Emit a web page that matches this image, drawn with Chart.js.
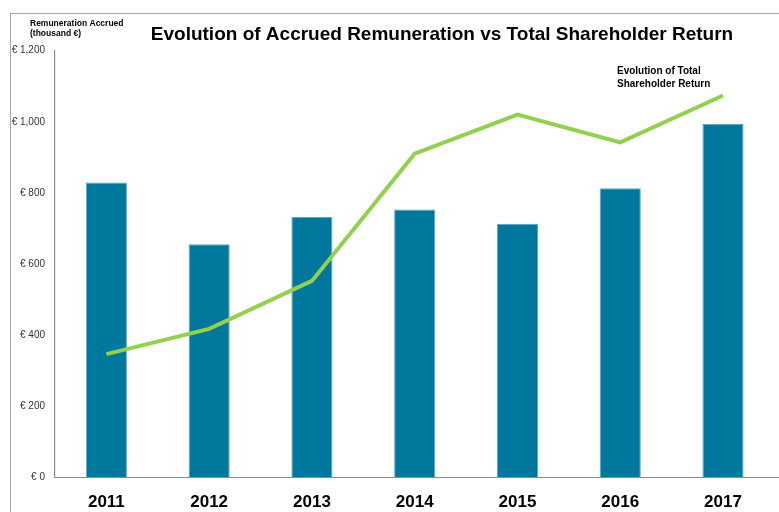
<!DOCTYPE html>
<html>
<head>
<meta charset="utf-8">
<script src="https://cdn.jsdelivr.net/npm/chart.js@4"></script>
<style>
  html, body { margin: 0; padding: 0; background: #fff; }
  #wrap { position: relative; width: 779px; height: 512px; overflow: hidden; }
  #frame { position: absolute; left: 10px; top: 13px; width: 800px; height: 600px;
           border-top: 1px solid #a6a6a6; border-left: 1px solid #a6a6a6; }
  canvas { position: absolute; left: 0; top: 0; }
</style>
</head>
<body>
<div id="wrap">
  <div id="frame"></div>
  <canvas id="myChart" width="779" height="512"></canvas>
</div>
<script>
// data
const years = ['2011', '2012', '2013', '2014', '2015', '2016', '2017'];
const remuneration = [829, 655, 732, 753, 713, 813, 994];
const shareholderReturn = [346, 417, 552, 910, 1020, 942, 1074];
const yTicks = [0, 200, 400, 600, 800, 1000, 1200];

const chartTitle = 'Evolution of Accrued Remuneration vs Total Shareholder Return';
const yTitle = ['Remuneration Accrued', '(thousand €)'];
const lineNote = ['Evolution of Total', 'Shareholder Return'];

const ctx = document.getElementById('myChart').getContext('2d');

// teks tambahan: judul, judul sumbu, catatan garis, garis sumbu x
const extras = {
  id: 'extras',
  afterDraw(chart) {
    const c = chart.ctx;
    const area = chart.chartArea;
    c.save();
    c.fillStyle = '#000';
    c.textBaseline = 'middle';
    c.font = 'bold 19px "Liberation Sans", Arial, sans-serif';
    c.textAlign = 'center';
    c.fillText(chartTitle, 442, 35);

    c.textAlign = 'left';
    c.font = 'bold 8.5px "Liberation Sans", Arial, sans-serif';
    c.fillText(yTitle[0], 30, 24);
    c.fillText(yTitle[1], 30, 34);

    c.font = 'bold 10px "Liberation Sans", Arial, sans-serif';
    c.fillText(lineNote[0], 617, 71);
    c.fillText(lineNote[1], 617, 84);

    c.strokeStyle = '#8c8c8c';
    c.lineWidth = 1.2;
    c.beginPath();
    c.moveTo(area.left, Math.round(area.bottom) + 0.5);
    c.lineTo(chart.width, Math.round(area.bottom) + 0.5);
    c.stroke();
    c.restore();
  }
};

new Chart(ctx, {
  type: 'bar',
  data: {
    labels: years,
    datasets: [{
      type: 'line',
      label: 'Total Shareholder Return',
      data: shareholderReturn,
      borderColor: '#92d050',
      borderWidth: 4,
      pointRadius: 0,
      tension: 0,
      order: 0
    }, {
      label: 'Remuneration Accrued',
      data: remuneration,
      backgroundColor: '#00779c',
      borderColor: '#5aa8c4',
      borderWidth: 1,
      barPercentage: 0.4,
      categoryPercentage: 1,
      order: 1
    }]
  },
  options: {
    responsive: false,
    animation: false,
    layout: { padding: { left: 0, right: 4.6, top: 50.7, bottom: 0 } },
    plugins: { legend: { display: false }, tooltip: { enabled: false } },
    scales: {
      x: {
        grid: { display: false, drawTicks: false },
        border: { display: false },
        ticks: {
          color: '#000',
          padding: 15,
          font: { family: '"Liberation Sans", Arial, sans-serif', size: 17, weight: 'bold' }
        },
        afterFit(scale) { scale.height = 35; }
      },
      y: {
        min: 0,
        max: 1200,
        afterBuildTicks(scale) { scale.ticks = yTicks.map(v => ({ value: v })); },
        grid: { display: false, drawTicks: false },
        border: { display: true, color: '#8c8c8c', width: 1.2 },
        ticks: {
          color: '#333',
          padding: 10,
          font: { family: '"Liberation Sans", Arial, sans-serif', size: 10 },
          callback: v => '€ ' + v.toLocaleString('en-US')
        },
        afterFit(scale) { scale.width = 55; }
      }
    }
  },
  plugins: [extras]
});
</script>
</body>
</html>
